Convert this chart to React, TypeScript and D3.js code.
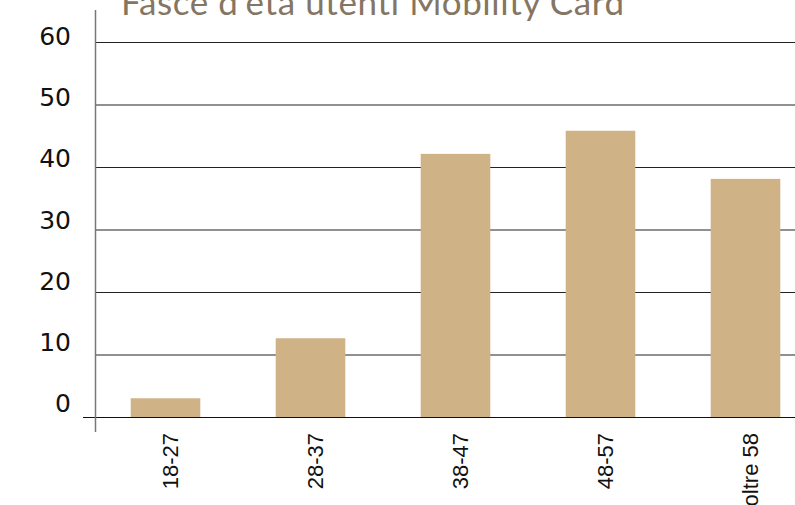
import { useEffect, useRef } from 'react';
import * as d3 from 'd3';

const categories = ['18-27', '28-37', '38-47', '48-57', 'oltre 58'];
const values = [3, 12.6, 42.1, 45.8, 38.1];
const yTicks = [0, 10, 20, 30, 40, 50, 60];
const title = "Fasce d'età utenti Mobility Card";

function App() {
    const svgRef = useRef<SVGSVGElement>(null);

    useEffect(() => {
        const svg = d3.select(svgRef.current);
        svg.selectAll('*').remove();

        const x = d3.scaleBand()
            .domain(categories)
            .range([93, 818])
            .paddingInner(0.52)
            .paddingOuter(0.26);

        const y = d3.scaleLinear()
            .domain([0, 60])
            .range([417, 42]);

        // tick labels sit on their own, slightly tighter spacing
        const yLabel = d3.scaleLinear()
            .domain([0, 60])
            .range([412, 45]);

        // title, cut at top as in the original
        svg.append('text')
            .attr('x', 121)
            .attr('y', 15)
            .attr('fill', '#857663')
            .attr('font-family', 'Lato, sans-serif')
            .attr('font-size', 35)
            .attr('textLength', 503)
            .attr('lengthAdjust', 'spacing')
            .text(title);

        // gridlines
        svg.append('g')
            .selectAll('line')
            .data(yTicks.filter(d => d > 0))
            .join('line')
            .attr('x1', 95)
            .attr('x2', 795)
            .attr('y1', d => y(d) + 0.5)
            .attr('y2', d => y(d) + 0.5)
            .attr('stroke', '#222')
            .attr('stroke-width', 1);

        // bars
        svg.append('g')
            .selectAll('rect')
            .data(values)
            .join('rect')
            .attr('x', (d, i) => x(categories[i]))
            .attr('y', d => y(d))
            .attr('width', x.bandwidth())
            .attr('height', d => y(0) - y(d))
            .attr('fill', '#D0B287');

        // baseline
        svg.append('line')
            .attr('x1', 83)
            .attr('x2', 795)
            .attr('y1', y(0) + 0.5)
            .attr('y2', y(0) + 0.5)
            .attr('stroke', '#111')
            .attr('stroke-width', 1.2);

        // y axis line
        svg.append('line')
            .attr('x1', 95.5)
            .attr('x2', 95.5)
            .attr('y1', 10)
            .attr('y2', 432)
            .attr('stroke', '#777')
            .attr('stroke-width', 1.5);

        // y labels
        svg.append('g')
            .selectAll('text')
            .data(yTicks)
            .join('text')
            .attr('x', 71)
            .attr('y', d => yLabel(d))
            .attr('text-anchor', 'end')
            .attr('fill', '#111')
            .attr('font-family', 'DejaVu Sans, sans-serif')
            .attr('font-size', 25)
            .text(d => d);

        // x labels, rotated
        svg.append('g')
            .selectAll('text')
            .data(categories)
            .join('text')
            .attr('transform', d => `translate(${x(d) + x.bandwidth() / 2 + 5}, 433) rotate(-90)`)
            .attr('text-anchor', 'end')
            .attr('dy', '0.35em')
            .attr('fill', '#111')
            .attr('font-family', 'Liberation Sans, Arial, sans-serif')
            .attr('font-size', 22)
            .text(d => d);
    }, []);

    return (
        <svg
            ref={svgRef}
            width="795"
            height="505"
            style={{ position: 'absolute', left: 0, top: 0, background: '#fff' }}
        />
    );
}

export default App;
